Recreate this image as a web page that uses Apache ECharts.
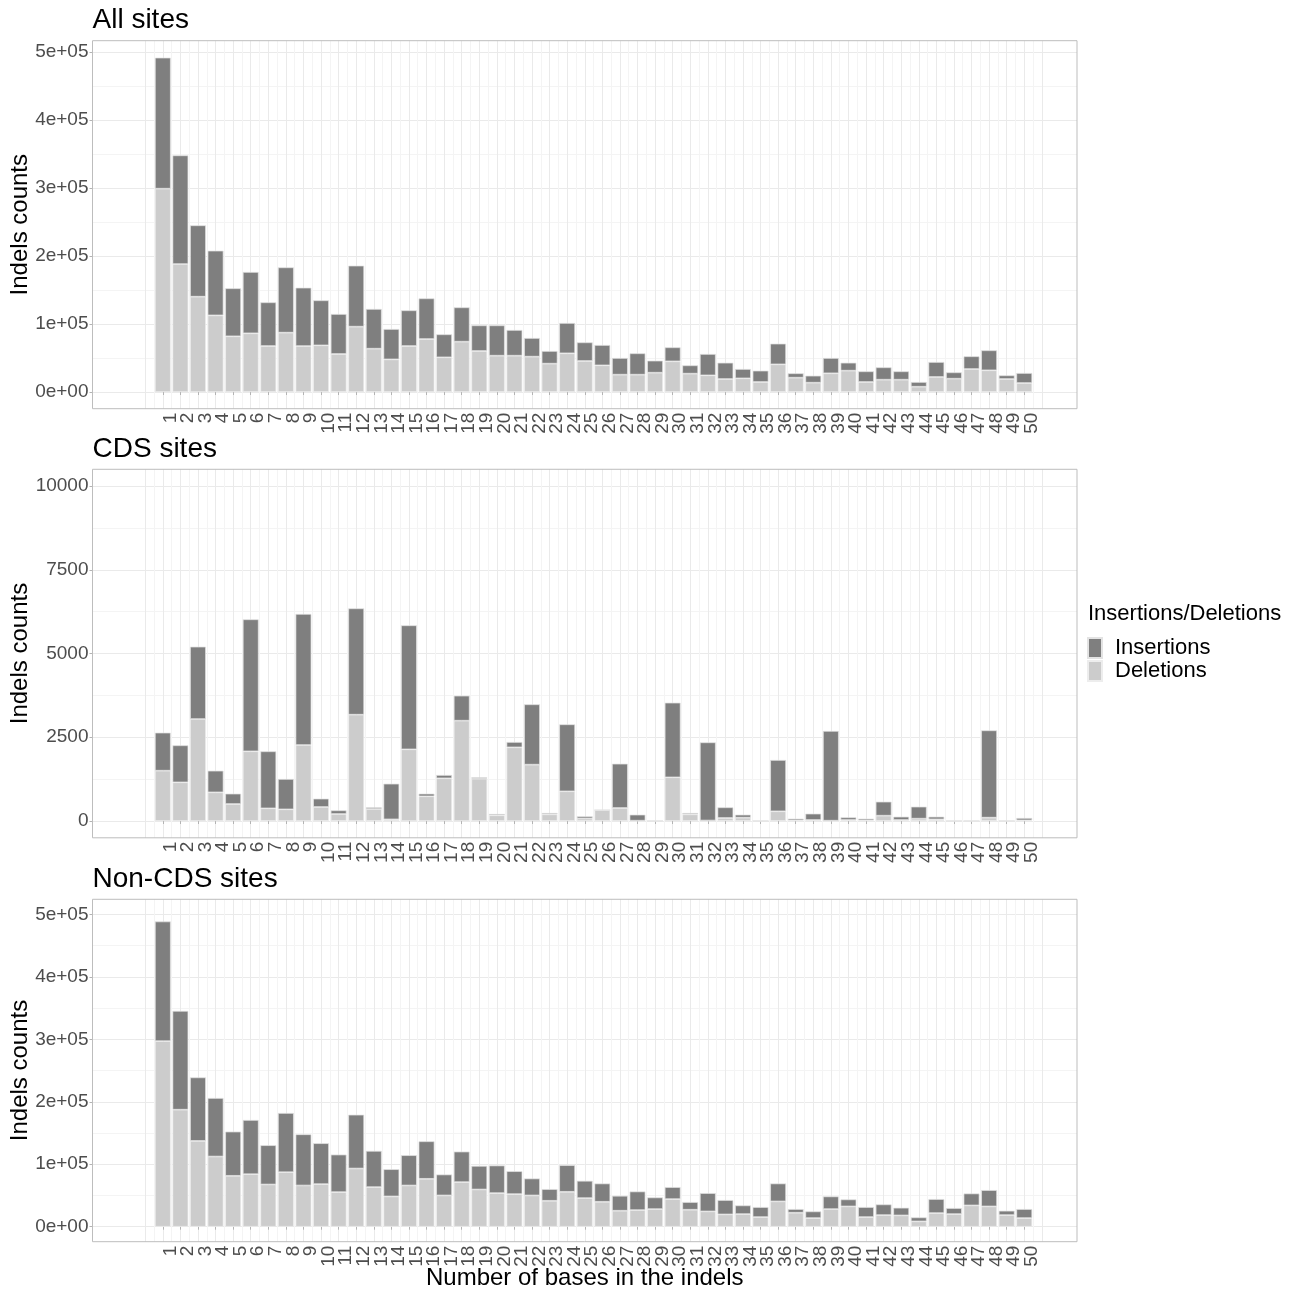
<!DOCTYPE html>
<html><head><meta charset="utf-8">
<script src="https://cdn.jsdelivr.net/npm/echarts@6/dist/echarts.min.js"></script>
<style>html,body{margin:0;padding:0;background:#fff}#c{width:1299px;height:1292px}</style>
</head><body><div id="c"></div>
<script>
const bases = [1,2,3,4,5,6,7,8,9,10,11,12,13,14,15,16,17,18,19,20,21,22,23,24,25,26,27,28,29,30,31,32,33,34,35,36,37,38,39,40,41,42,43,44,45,46,47,48,49,50];
const seriesNames = ['Insertions', 'Deletions'];
const panelTitles = ['All sites', 'CDS sites', 'Non-CDS sites'];

const allDeletions = [299000,188200,140200,112700,81900,86300,67600,87300,67600,68600,55900,96100,63700,48000,67600,77900,51000,74000,60300,53400,53400,52000,41700,56900,45600,39200,25500,25500,28400,45100,27000,24500,19100,20100,14700,40700,21100,13700,27500,31400,14700,18100,18100,7800,22100,19600,33800,31900,19100,13200];
const allInsertions = [192700,159800,104900,95100,70600,90200,64300,96000,85800,66200,58800,89700,58400,44600,52500,59800,33800,50500,37700,44600,37800,27400,18600,44600,27400,29900,24500,31400,17700,20600,12200,31400,24000,13700,16700,30400,6400,10300,22500,11700,15700,18200,12300,6900,22000,9300,18700,29400,5400,14700];

const cdsDeletions = [1502,1154,3045,856,507,2080,378,348,2269,418,209,3174,358,50,2139,736,1274,2995,1264,169,2199,1682,199,886,75,328,388,10,0,1303,199,15,90,100,0,289,20,30,10,30,20,159,30,70,50,0,0,100,0,20];
const cdsInsertions = [1135,1105,2159,646,309,3940,1702,906,3910,249,109,3174,50,1064,3702,80,99,746,39,40,159,1801,40,2000,64,0,1323,180,0,2229,40,2333,318,89,0,1532,50,189,2677,79,50,418,99,358,79,0,0,2606,0,70];

const nonCdsDeletions = [297100,187400,137400,112400,81500,84100,67600,87300,66000,68200,55400,93200,63400,48500,66000,76700,50100,71400,59600,53800,52200,50100,41500,55900,45800,39900,25600,26600,28200,44200,27200,24500,19700,20200,15400,40500,22400,13800,28200,32500,15400,18600,18100,8500,21800,20200,34100,32500,18600,13800];
const nonCdsInsertions = [191700,158200,101700,93700,70800,86800,62900,94800,82000,65500,60100,86200,58000,43600,48500,60100,33500,48900,37800,44200,36700,27100,18700,42600,27700,29300,23900,29800,18700,19200,12200,29300,22900,13900,16000,28700,5800,10700,20300,11200,16000,17100,12300,6400,22400,9600,19100,26100,7000,14400];

const sciTicks = {max: 500000, step: 100000};
const cdsTicks = {max: 10000, step: 2500};

// ---------- layout ----------
const FONT = '"Liberation Sans", Arial, Helvetica, sans-serif';
const L = 92.5, R = 1077;
const XLO = -3, XHI = 53;
const unit = (R - L) / (XHI - XLO);
const px = x => L + (x - XLO) * unit;
const C_INS = '#7F7F7F', C_DEL = '#CCCCCC';
const GRID_MAJOR = '#EAEAEA', GRID_MINOR = '#F4F4F4';
const BORDER = '#BDBDBD', TICK = '#B3B3B3', TXT = '#4D4D4D';

const sciFmt = v => {
  if (v === 0) return '0e+00';
  const e = Math.floor(Math.log10(v) + 1e-9);
  const m = Math.round(v / Math.pow(10, e) * 100) / 100;
  return m + 'e+' + String(e).padStart(2, '0');
};
const plainFmt = v => String(v);

const panels = [
  {T: 40.7, B: 408.7, zeroPx: 392, topPx: 52, ticks: sciTicks, fmt: sciFmt, del: allDeletions, ins: allInsertions},
  {T: 469.3, B: 837.8, zeroPx: 821, topPx: 486, ticks: cdsTicks, fmt: plainFmt, del: cdsDeletions, ins: cdsInsertions},
  {T: 899.3, B: 1241.7, zeroPx: 1226.7, topPx: 914.5, ticks: sciTicks, fmt: sciFmt, del: nonCdsDeletions, ins: nonCdsInsertions}
];

const grids = [], xAxes = [], yAxes = [], series = [], graphics = [];

panels.forEach((p, i) => {
  const perPx = p.ticks.max / (p.zeroPx - p.topPx);
  const ylo = -(p.B - p.zeroPx) * perPx;
  const yhi = (p.zeroPx - p.T) * perPx;
  const gA = grids.length;
  // Grid A: horizontal grid lines + y axis labels
  grids.push({left: L, top: p.topPx, width: R - L, height: p.zeroPx - p.topPx, containLabel: false, outerBoundsMode: 'none'});
  xAxes.push({type: 'value', gridIndex: gA, min: 0, max: 1, show: false});
  yAxes.push({
    type: 'value', gridIndex: gA, min: 0, max: p.ticks.max, interval: p.ticks.step,
    axisLine: {show: false},
    axisTick: {show: true, length: 3, lineStyle: {color: TICK, width: 1}},
    axisLabel: {show: true, fontSize: 19, fontFamily: FONT, color: TXT, margin: 4, formatter: p.fmt},
    splitLine: {show: true, lineStyle: {color: GRID_MAJOR, width: 1}},
    minorTick: {show: false, splitNumber: 2},
    minorSplitLine: {show: true, lineStyle: {color: GRID_MINOR, width: 1}}
  });
  // Grid B: vertical grid lines
  const gB = grids.length;
  grids.push({left: px(0), top: p.T, width: px(51) - px(0), height: p.B - p.T, containLabel: false, outerBoundsMode: 'none'});
  xAxes.push({
    type: 'value', gridIndex: gB, min: 0, max: 51, interval: 1,
    axisLine: {show: false}, axisTick: {show: false}, axisLabel: {show: false},
    splitLine: {show: true, lineStyle: {color: GRID_MAJOR, width: 1}},
    minorTick: {show: false, splitNumber: 2},
    minorSplitLine: {show: true, lineStyle: {color: GRID_MINOR, width: 1}}
  });
  yAxes.push({type: 'value', gridIndex: gB, min: 0, max: 1, show: false});
  // Grid C: bars + x labels (category axis, one slot per base count)
  const gC = grids.length;
  grids.push({left: px(0.5), top: p.T, width: px(50.5) - px(0.5), height: p.B - p.T, containLabel: false, outerBoundsMode: 'none'});
  xAxes.push({
    type: 'category', gridIndex: gC, data: bases.map(String), boundaryGap: true,
    axisLine: {show: false},
    axisTick: {show: true, alignWithLabel: true, interval: 0, length: 3, lineStyle: {color: TICK, width: 1}},
    axisLabel: {show: true, interval: 0, rotate: 90, fontSize: 19, fontFamily: FONT, color: TXT, margin: 4,
      verticalAlign: 'top', lineHeight: 15, hideOverlap: false},
    splitLine: {show: false}
  });
  yAxes.push({type: 'value', gridIndex: gC, min: ylo, max: yhi, show: false});

  const common = {type: 'bar', xAxisIndex: gC, yAxisIndex: gC, stack: 'p' + i, barWidth: 0.9 * unit,
    silent: true, animation: false};
  series.push(Object.assign({}, common, {
    name: 'Deletions', itemStyle: {color: C_DEL, borderColor: '#EDEDED', borderWidth: 0.7},
    data: p.del
  }));
  series.push(Object.assign({}, common, {
    name: 'Insertions', itemStyle: {color: C_INS, borderColor: '#E3E3E3', borderWidth: 0.7},
    data: p.ins
  }));

  // panel border
  graphics.push({type: 'rect', z: 100, silent: true,
    shape: {x: L, y: p.T, width: R - L, height: p.B - p.T},
    style: {fill: 'none', stroke: BORDER, lineWidth: 1}});
  // panel title
  graphics.push({type: 'text', z: 100, x: L, y: p.T - 20,
    style: {text: panelTitles[i], fontSize: 28, fontFamily: FONT, fill: '#000', align: 'left', verticalAlign: 'middle', textAlign: 'left', textVerticalAlign: 'middle'}});
  // y axis title
  graphics.push({type: 'text', z: 100, x: 20, y: (p.T + p.B) / 2, rotation: Math.PI / 2,
    style: {text: 'Indels counts', fontSize: 24, fontFamily: FONT, fill: '#000', align: 'center', verticalAlign: 'middle', textAlign: 'center', textVerticalAlign: 'middle'}});
});

// x axis title
graphics.push({type: 'text', z: 100, x: (L + R) / 2, y: 1278,
  style: {text: 'Number of bases in the indels', fontSize: 24, fontFamily: FONT, fill: '#000', align: 'center', verticalAlign: 'middle', textAlign: 'center', textVerticalAlign: 'middle'}});
// legend title
graphics.push({type: 'text', z: 100, x: 1088, y: 614,
  style: {text: 'Insertions/Deletions', fontSize: 22, fontFamily: FONT, fill: '#000', align: 'left', verticalAlign: 'middle', textAlign: 'left', textVerticalAlign: 'middle'}});

const chart = echarts.init(document.getElementById('c'), null, {renderer: 'canvas'});
chart.setOption({
  animation: false,
  backgroundColor: '#fff',
  textStyle: {fontFamily: FONT},
  grid: grids,
  xAxis: xAxes,
  yAxis: yAxes,
  series: series,
  legend: {
    data: seriesNames, orient: 'vertical', left: 1087, top: 637, padding: 0,
    itemWidth: 14, itemHeight: 20, itemGap: 1, icon: 'rect', selectedMode: false,
    textStyle: {fontSize: 22, fontFamily: FONT, color: '#000', lineHeight: 20, padding: [0, 0, 0, 8]}
  },
  graphic: graphics
});
</script></body></html>
